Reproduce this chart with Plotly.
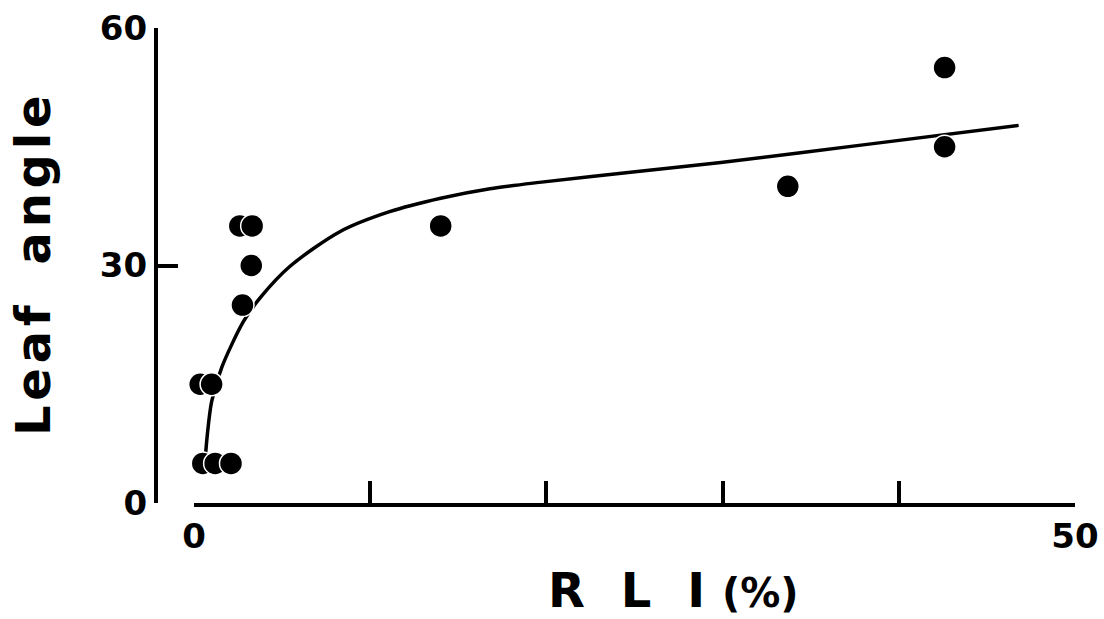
import plotly.graph_objects as go

# Observed data points (RLI %, leaf angle)
rli = [0.5, 1.2, 2.1, 0.35, 1.0, 2.6, 3.3, 3.25, 2.75, 14.0, 33.7, 42.6, 42.6]
angle = [5, 5, 5, 15, 15, 35, 35, 30, 25, 35, 40, 55, 45]

# Fitted curve
curve_x = [0.6, 0.75, 1.0, 1.57, 2.8, 3.75, 5.45, 8.3, 11.1, 14.0, 16.8, 19.6, 25.3, 29.9, 38.2, 46.8]
curve_y = [4.5, 8.5, 12.8, 17.1, 22.9, 25.9, 29.9, 34.3, 36.8, 38.5, 39.7, 40.5, 41.9, 43.0, 45.3, 47.7]

x_tickvals = [0, 10, 20, 30, 40, 50]
x_ticktext = ["0", "", "", "", "", "50"]
y_tickvals = [0, 30, 60]
y_ticktext = ["0", "30", "60"]

FONT = "DejaVu Sans"
W, H = 1104, 619

fig = go.Figure()
fig.add_trace(go.Scatter(
    x=curve_x, y=curve_y, mode="lines",
    line=dict(color="black", width=3.5, shape="spline", smoothing=0.8),
    cliponaxis=False, hoverinfo="skip", showlegend=False))
fig.add_trace(go.Scatter(
    x=rli, y=angle, mode="markers",
    marker=dict(color="black", size=23, line=dict(color="white", width=1.5)),
    cliponaxis=False, showlegend=False))

x0, x1 = 194 / W, 1075 / W
y0, y1 = (H - 503) / H, (H - 28) / H

tickfont = dict(size=34, family=FONT, color="black", weight="bold")

fig.update_layout(
    width=W, height=H,
    margin=dict(l=0, r=0, t=0, b=0, autoexpand=False),
    paper_bgcolor="white", plot_bgcolor="white",
    font=dict(family=FONT, color="black"),
    xaxis=dict(
        domain=[x0, x1], range=[0, 50], showgrid=False, zeroline=False,
        automargin=False,
        showline=True, linecolor="black", linewidth=4,
        ticks="inside", ticklen=22, tickwidth=4, tickcolor="black",
        tickvals=x_tickvals, ticktext=x_ticktext, tickfont=tickfont),
    yaxis=dict(
        domain=[y0, y1], range=[0, 60], showgrid=False, zeroline=False,
        automargin=False,
        anchor="free", position=156 / W,
        showline=True, linecolor="black", linewidth=4,
        ticks="inside", ticklen=20, tickwidth=4, tickcolor="black",
        tickvals=y_tickvals, ticktext=y_ticktext, tickfont=tickfont),
    annotations=[
        dict(text="R\u2009 \u2009L\u2009 \u2009I <span style='font-size:40px'>(%)</span>",
             x=673 / W, y=(H - 590) / H, xref="paper", yref="paper",
             xanchor="center", yanchor="middle",
             showarrow=False,
             font=dict(size=48, family=FONT, color="black", weight="bold")),
        dict(text="L\u200ae\u200aa\u200af \u2002a\u200an\u200ag\u200al\u200ae",
             x=33 / W, y=(H - 266) / H, xref="paper", yref="paper",
             xanchor="center", yanchor="middle",
             textangle=-90, showarrow=False,
             font=dict(size=48, family=FONT, color="black", weight="bold")),
    ],
)

fig.write_html("out.html")
